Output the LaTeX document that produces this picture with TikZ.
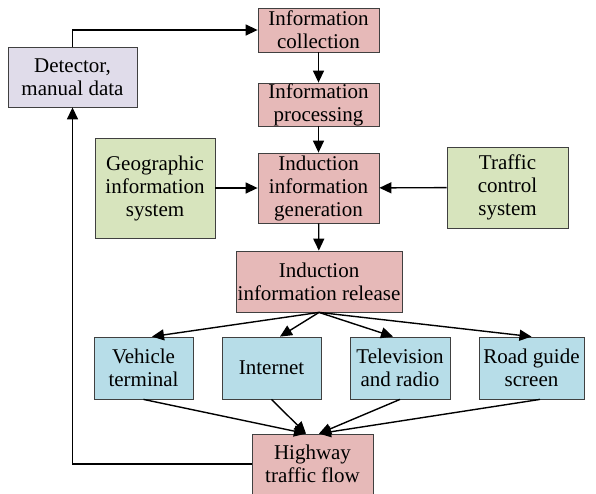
\documentclass[tikz,border=0pt]{standalone}
\usepackage{fontspec}
\setmainfont{LiberationSerif}[Extension=.ttf, UprightFont=*-Regular, BoldFont=*-Bold, ItalicFont=*-Italic, BoldItalicFont=*-BoldItalic]
\usetikzlibrary{arrows.meta,calc}
\definecolor{pinkfill}{RGB}{230,185,184}
\definecolor{greenfill}{RGB}{215,228,189}
\definecolor{lilacfill}{RGB}{224,220,234}
\definecolor{bluefill}{RGB}{183,221,232}
\begin{document}
\begin{tikzpicture}[x=1pt,y=-1pt,
  box/.style={draw=black!75, line width=0.8pt, align=center, inner sep=0pt,
    font=\fontsize{21}{23}\selectfont},
  pinkbox/.style={box, fill=pinkfill},
  greenbox/.style={box, fill=greenfill},
  lilacbox/.style={box, fill=lilacfill},
  bluebox/.style={box, fill=bluefill},
  arr/.style={-{Triangle[length=12pt,width=11pt]}, line width=1.4pt, black}]
\useasboundingbox (0,0) rectangle (596,493);

% processing chain
\node[pinkbox, minimum width=121pt, minimum height=44pt] (coll) at (318.5,30) {Information\\collection};
\node[pinkbox, minimum width=121pt, minimum height=43pt] (proc) at (318.5,104.5) {Information\\processing};
\node[pinkbox, minimum width=121pt, minimum height=70pt] (gen) at (318.5,188) {Induction\\information\\generation};
\node[pinkbox, minimum width=166pt, minimum height=61pt] (rel) at (319,281.5) {Induction\\information release};
\node[pinkbox, minimum width=121pt, minimum height=60pt] (hwy) at (312.5,464) {Highway\\traffic flow};

% side inputs
\node[greenbox, minimum width=120pt, minimum height=100pt] (geo) at (155,188) {Geographic\\information\\system};
\node[greenbox, minimum width=121pt, minimum height=81pt] (tcs) at (507.5,187.5) {Traffic\\control\\system};
\node[lilacbox, minimum width=129pt, minimum height=60pt] (det) at (72.5,77) {Detector,\\manual data};

% release channels
\node[bluebox, minimum width=99pt, minimum height=62pt] (veh) at (143.5,368) {Vehicle\\terminal};
\node[bluebox, minimum width=99pt, minimum height=62pt] (net) at (271.5,368) {Internet};
\node[bluebox, minimum width=100pt, minimum height=62pt] (tv) at (400,368) {Television\\and radio};
\node[bluebox, minimum width=105pt, minimum height=62pt] (road) at (531.5,368) {Road guide\\screen};

% main flow
\draw[arr] (det.north) |- (coll.west);
\draw[arr] (coll) -- (proc);
\draw[arr] (proc) -- (gen);
\draw[arr] (gen) -- (rel);
\draw[arr] (geo) -- (gen);
\draw[arr] (tcs) -- (gen);

% fan-out to channels
\draw[arr] (rel.south) -- ([xshift=8.5pt]veh.north);
\draw[arr] (rel.south) -- ([xshift=8.5pt]net.north);
\draw[arr] (rel.south) -- ([xshift=-7pt]tv.north);
\draw[arr] (rel.south) -- (road.north);

% channels to highway
\draw[arr] (veh.south) -- ([xshift=-6.5pt]hwy.north);
\draw[arr] (net.south) -- ([xshift=-6.5pt]hwy.north);
\draw[arr] (tv.south) -- ([xshift=6.5pt]hwy.north);
\draw[arr] ([xshift=8.5pt]road.south) -- ([xshift=6.5pt]hwy.north);

% feedback loop
\draw[arr] (hwy.west) -| (det.south);
\end{tikzpicture}
\end{document}
